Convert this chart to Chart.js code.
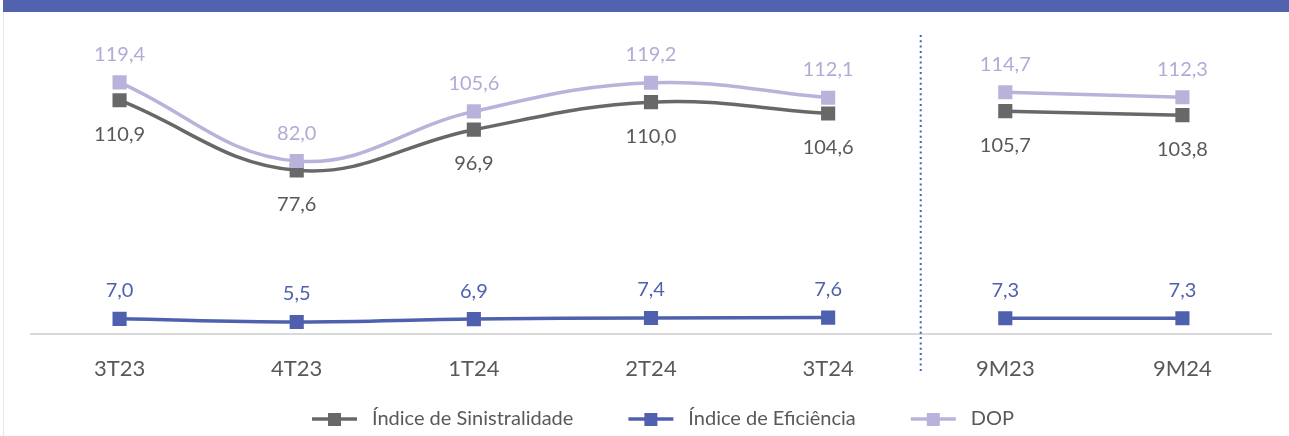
<!DOCTYPE html>
<html>
<head>
<meta charset="utf-8">
<script src="https://cdn.jsdelivr.net/npm/chart.js@4.4.0/dist/chart.umd.min.js"></script>
<style>
  html, body { margin: 0; padding: 0; background: #fff; }
  #wrap { position: absolute; left: 0; top: 0; width: 1289px; height: 436px; }
  #band { position: absolute; left: 3px; top: 0; width: 1286px; height: 12px; background: #5163AE; }
  #edge { position: absolute; left: 3px; top: 12px; width: 1px; height: 424px; background: #E4E5EE; }
</style>
</head>
<body>
<div id="wrap"><canvas id="chart"></canvas></div>
<div id="band"></div>
<div id="edge"></div>
<script>
const categories = ['3T23', '4T23', '1T24', '2T24', '3T24', '9M23', '9M24'];
const sinistralidade = [110.9, 77.6, 96.9, 110.0, 104.6, 105.7, 103.8];
const eficiencia = [7.0, 5.5, 6.9, 7.4, 7.6, 7.3, 7.3];
const dop = [119.4, 82.0, 105.6, 119.2, 112.1, 114.7, 112.3];
const quarterCount = 5; // 3T23..3T24 are quarters, then the 9M totals

const FONT = 'Lato, "Open Sans", sans-serif';

const series = [
  { name: 'Índice de Sinistralidade', data: sinistralidade, color: '#686868', labelColor: '#595959', labelPos: 'below', order: 1 },
  { name: 'Índice de Eficiência', data: eficiencia, color: '#4F61AE', labelColor: '#4F61AE', labelPos: 'above', order: 2 },
  { name: 'DOP', data: dop, color: '#B8B3DA', labelColor: '#B1ABD6', labelPos: 'above', order: 0 }
];

function part(data, quarters) {
  return data.map((v, i) => (quarters ? i < quarterCount : i >= quarterCount) ? v : null);
}

// line + square marker used in the legend, with blank space in front for item spacing
function legendMarker(color) {
  const c = document.createElement('canvas');
  c.width = 100; c.height = 14;
  const g = c.getContext('2d');
  g.strokeStyle = color;
  g.lineWidth = 3.5;
  g.beginPath(); g.moveTo(50, 7); g.lineTo(95, 7); g.stroke();
  g.fillStyle = color;
  g.fillRect(66, 1, 13, 13);
  return c;
}

const datasets = [];
series.forEach(s => {
  [true, false].forEach(q => {
    datasets.push({
      label: s.name,
      data: part(s.data, q),
      borderColor: s.color,
      backgroundColor: s.color,
      borderWidth: 3.5,
      tension: q ? 0.4 : 0,
      pointStyle: 'rect',
      pointRadius: 10,
      pointHoverRadius: 10,
      pointBorderWidth: 0,
      spanGaps: false,
      order: s.order,
      labelColor: s.labelColor,
      labelPos: s.labelPos
    });
  });
});

const valueLabels = {
  id: 'valueLabels',
  afterDatasetsDraw(chart) {
    const ctx = chart.ctx;
    ctx.save();
    ctx.font = '20px ' + FONT;
    ctx.textAlign = 'center';
    ctx.textBaseline = 'middle';
    chart.data.datasets.forEach((ds, di) => {
      const meta = chart.getDatasetMeta(di);
      meta.data.forEach((pt, i) => {
        const v = ds.data[i];
        if (v === null) return;
        ctx.fillStyle = ds.labelColor;
        const y = ds.labelPos === 'above' ? pt.y - 28 : pt.y + 34;
        ctx.fillText(v.toFixed(1).replace('.', ','), pt.x, y);
      });
    });
    ctx.restore();
  }
};

const divider = {
  id: 'divider',
  beforeDatasetsDraw(chart) {
    const x = chart.scales.x;
    const px = (x.getPixelForValue(quarterCount - 1) + x.getPixelForValue(quarterCount)) / 2 + 4;
    const ctx = chart.ctx;
    ctx.save();
    ctx.strokeStyle = '#4F61AE';
    ctx.lineWidth = 2;
    ctx.setLineDash([2, 3.3]);
    ctx.beginPath();
    ctx.moveTo(px, 35);
    ctx.lineTo(px, 372);
    ctx.stroke();
    ctx.restore();
  }
};

// the blank lead-in of the first legend marker pushes the row right; pull it back
const legendShift = {
  id: 'legendShift',
  afterLayout(chart) {
    chart.legend.left -= 13;
    chart.legend.right -= 13;
  }
};

new Chart(document.getElementById('chart'), {
  type: 'line',
  data: { labels: categories, datasets: datasets },
  plugins: [divider, valueLabels, legendShift],
  options: {
    responsive: true,
    maintainAspectRatio: false,
    animation: false,
    layout: { padding: { top: 39, left: 31, right: 18, bottom: -3 } },
    scales: {
      y: {
        display: false,
        min: 0,
        max: 140
      },
      x: {
        offset: true,
        grid: { display: false, drawTicks: false },
        border: { display: true, color: '#D9D9D9', width: 2 },
        ticks: { color: '#595959', font: { family: FONT, size: 22 }, padding: 22 }
      }
    },
    plugins: {
      tooltip: { enabled: false },
      legend: {
        position: 'bottom',
        onClick: null,
        labels: {
          usePointStyle: true,
          pointStyleWidth: 100,
          padding: 5,
          color: '#595959',
          font: { family: FONT, size: 20 },
          generateLabels: () => series.map((s, i) => ({
            text: s.name,
            pointStyle: legendMarker(s.color),
            fillStyle: s.color,
            strokeStyle: s.color,
            lineWidth: 0,
            hidden: false,
            datasetIndex: i * 2,
            fontColor: '#595959'
          }))
        }
      }
    }
  }
});
</script>
</body>
</html>
